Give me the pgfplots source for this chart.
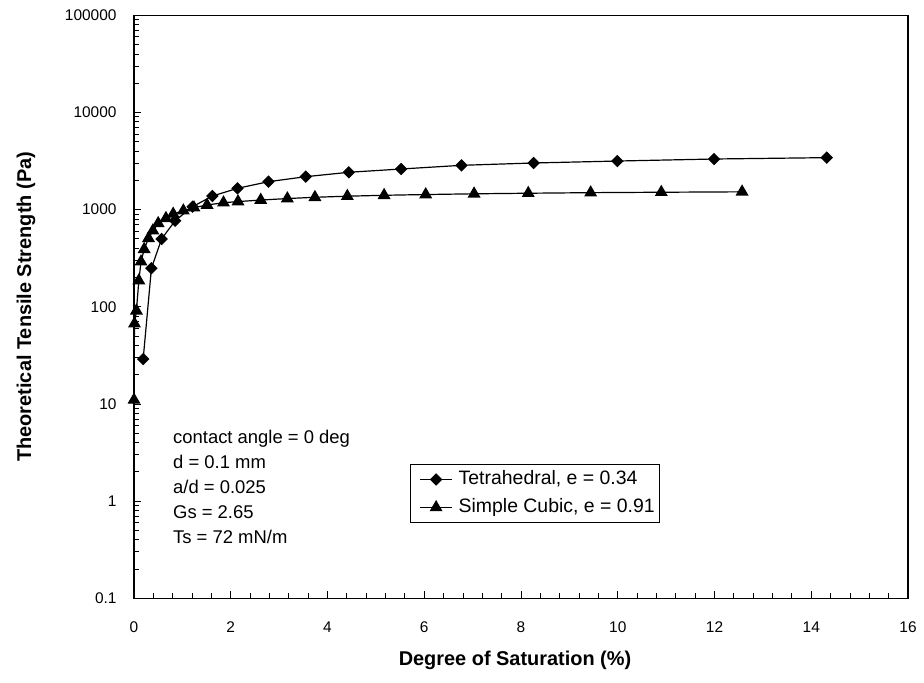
\documentclass[border=0pt]{standalone}
\usepackage{fontspec}
\setmainfont{Liberation Sans}
\usepackage{pgfplots}
\pgfplotsset{compat=1.18}
\usetikzlibrary{calc}
\begin{document}
\begin{tikzpicture}
\begin{axis}[
  name=ax,
  scale only axis,
  width=774bp, height=583bp,
  xmin=0, xmax=16,
  ymode=log, ymin=0.1, ymax=100000,
  xtick={0,2,...,16},
  minor x tick num=4,
  ytick={0.1,1,10,100,1000,10000,100000},
  yticklabels={0.1,1,10,100,1000,10000,100000},
  tick align=inside,
  xtick pos=bottom, ytick pos=left,
  major tick length=7bp, minor tick length=5bp,
  every tick/.style={black, line width=0.9bp},
  axis line style={black, line width=1.5bp},
  /pgf/number format/assume math mode=true,
  tick label style={font=\fontsize{15.5}{18}\selectfont},
  xticklabel style={yshift=-20bp},
  yticklabel style={xshift=-14bp},
  legend style={at={(0.3566,0.2304)}, anchor=north west, draw=black, line width=1bp,
    font=\fontsize{19.5}{23}\selectfont, inner xsep=4bp, inner ysep=5bp, row sep=8bp,
    nodes={text height=14bp, text depth=4bp, inner sep=1bp},
    /tikz/every even column/.append style={column sep=0bp}},
  legend image code/.code={\path (0bp,0bp) (42bp,0bp);
    \draw[mark repeat=2,mark phase=2,#1] plot coordinates {(5bp,0bp) (21bp,0bp) (37bp,0bp)};},
  legend cell align=left,
  clip=true,
]
\addplot[black, line width=1.2bp, mark=square*, mark size=3.8bp, mark options={rotate=45, solid, fill=black}] coordinates {
(0.19,29) (0.36,249) (0.57,499) (0.85,769) (1.21,1072) (1.62,1380) (2.14,1657) (2.78,1940)
(3.55,2183) (4.44,2423) (5.52,2619) (6.77,2858) (8.26,3020) (9.99,3163) (11.99,3319) (14.32,3428)
};
\addlegendentry{Tetrahedral, e = 0.34}
\addplot[black, line width=1.2bp, mark=triangle*, mark size=6.3bp, mark options={solid, fill=black}] coordinates {
(0,11) (0.01,67) (0.05,91) (0.10,186) (0.145,291) (0.21,391) (0.30,507) (0.39,607) (0.50,722)
(0.66,814) (0.81,902) (1.02,975) (1.24,1047) (1.51,1116) (1.85,1178) (2.15,1210) (2.62,1255)
(3.17,1300) (3.74,1340) (4.41,1375) (5.17,1405) (6.03,1430) (7.03,1455) (8.15,1475) (9.44,1495)
(10.9,1510) (12.57,1525)
};
\addlegendentry{Simple Cubic, e = 0.91}
\end{axis}
% annotations, positioned relative to the lower-left corner of the axis box (x right, y up)
\begin{scope}[shift={(ax.south west)}, every node/.style={inner sep=0pt}]
  \node[anchor=base west, font=\fontsize{18.5}{22}\selectfont] at (39bp,154.6bp) {contact angle = 0 deg};
  \node[anchor=base west, font=\fontsize{18.5}{22}\selectfont] at (39bp,129.6bp) {d = 0.1 mm};
  \node[anchor=base west, font=\fontsize{18.5}{22}\selectfont] at (39bp,104.6bp) {a/d = 0.025};
  \node[anchor=base west, font=\fontsize{18.5}{22}\selectfont] at (39bp,79.6bp) {Gs = 2.65};
  \node[anchor=base west, font=\fontsize{18.5}{22}\selectfont] at (39bp,54.6bp) {Ts = 72 mN/m};
  \node[font=\bfseries\fontsize{20}{24}\selectfont] at (381bp,-61.7bp) {Degree of Saturation (\%)};
  \node[rotate=90, font=\bfseries\fontsize{20}{24}\selectfont] at (-108bp,291.5bp) {Theoretical Tensile Strength (Pa)};
\end{scope}
\pgfresetboundingbox
\path ($(ax.south west)+(-134bp,-84.7bp)$) rectangle ($(ax.north east)+(16bp,15.3bp)$);
\end{tikzpicture}
\end{document}
